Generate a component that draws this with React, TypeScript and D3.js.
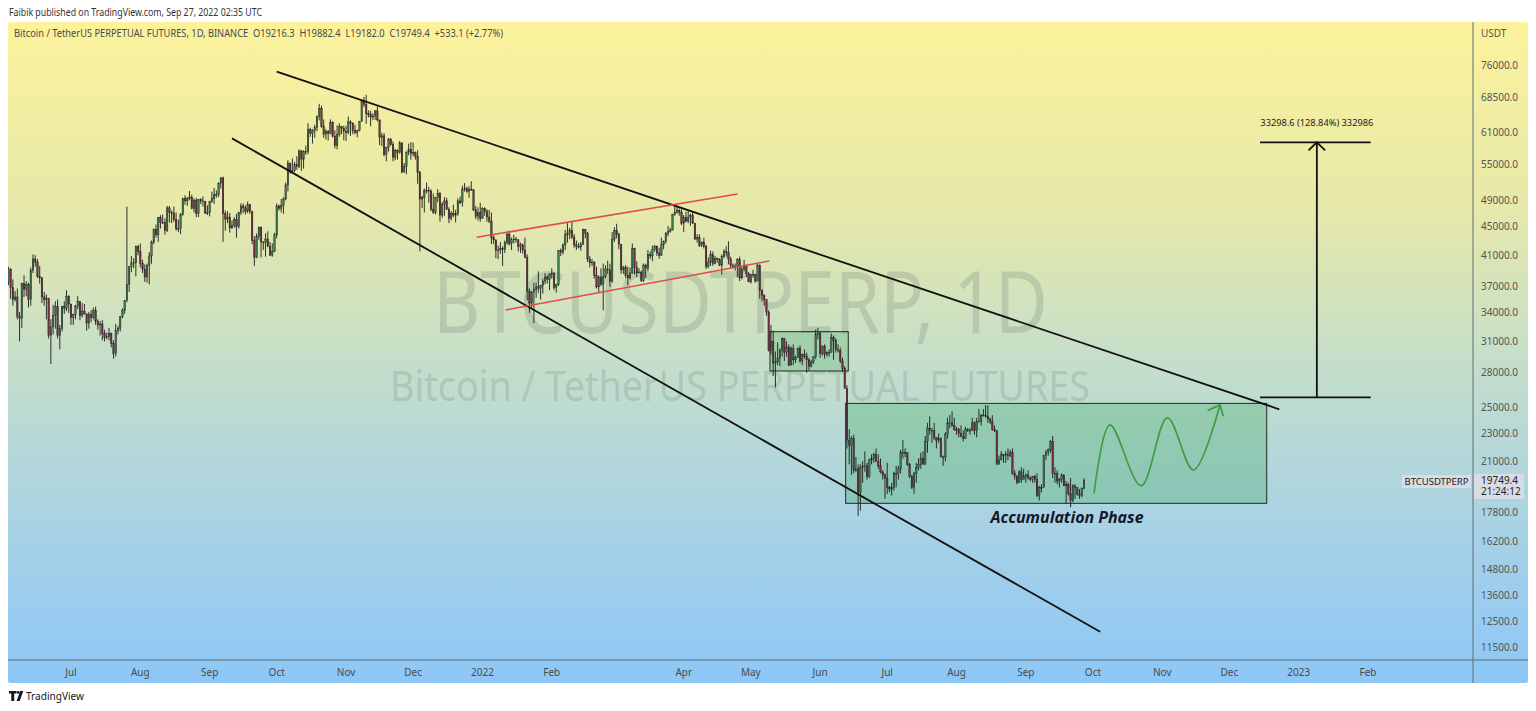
import React from "react";
import * as d3 from "d3";

// ---------- DATA (prices in thousands of USDT) ----------
// Daily candles, BTCUSDT perpetual, from 2021-06-03 to 2022-09-27. Open = previous close.
const firstDay = "2021-06-03";
const firstOpen = 37.6;
const closes: number[] = [
  // Jun 2021 (from 3rd)
  39.2,36.9,35.5,35.8,33.6,33.4,37.4,36.7,37.3,35.5,39.0,40.5,40.1,38.3,38.1,35.8,35.5,35.6,31.6,32.5,33.7,34.7,31.6,32.3,34.7,34.5,35.9,35.0,
  // Jul 2021
  33.5,33.8,34.7,35.3,33.7,34.2,33.9,32.9,33.8,33.5,34.3,33.1,32.7,32.8,31.8,31.4,31.5,31.8,30.8,29.8,32.1,32.3,33.6,34.3,35.4,37.3,39.5,40.0,40.0,42.2,41.5,
  // Aug 2021
  39.9,39.2,38.2,39.7,40.9,42.8,44.6,43.8,46.3,45.6,45.6,44.4,47.8,47.1,47.0,46.0,44.7,44.7,46.8,49.3,48.9,49.3,49.5,47.7,49.0,46.9,49.1,48.9,48.8,47.0,47.1,
  // Sep 2021
  48.8,49.3,49.9,49.9,51.8,52.7,46.9,46.1,46.4,44.8,45.2,46.0,45.0,47.1,48.1,47.8,47.3,48.3,47.3,43.0,40.7,43.6,44.9,42.8,42.7,43.2,42.2,41.0,41.5,43.8,
  // Oct 2021
  48.1,47.7,48.2,49.2,51.5,55.3,53.8,54.0,55.0,54.7,57.5,56.0,57.4,57.4,61.7,60.9,61.5,62.0,64.3,66.0,62.2,60.7,61.3,60.9,63.1,60.3,58.5,60.6,62.3,61.9,61.3,
  // Nov 2021
  61.0,63.2,62.9,61.4,61.0,61.5,63.3,67.5,66.9,64.9,64.8,64.2,64.4,65.5,63.6,60.1,60.4,56.9,58.1,59.7,58.7,56.3,57.6,57.2,59.0,53.7,54.7,57.3,57.8,57.0,
  // Dec 2021
  57.2,56.5,53.6,49.2,49.4,50.6,50.6,50.5,47.6,47.1,49.4,50.1,46.7,48.4,48.9,47.6,46.2,46.9,46.7,46.9,48.9,48.6,50.8,50.9,50.4,50.8,50.7,47.5,46.5,47.1,46.2,
  // Jan 2022
  47.7,47.3,46.4,45.8,43.4,43.1,41.6,41.7,41.9,41.8,42.7,43.9,42.6,43.1,43.2,43.1,42.2,42.4,41.7,40.7,36.5,35.1,36.3,36.7,37.0,36.8,37.2,37.7,38.2,37.9,38.5,
  // Feb 2022
  38.7,36.9,37.3,41.6,41.4,42.4,43.8,44.0,44.4,43.5,42.4,42.2,42.1,42.5,44.6,44.0,40.5,40.0,40.1,38.4,37.0,38.2,37.3,38.3,39.2,39.1,37.7,43.2,
  // Mar 2022
  44.4,43.9,42.5,39.1,39.4,38.4,38.1,38.7,41.9,39.4,38.7,38.8,37.8,39.7,39.3,41.1,40.9,41.8,42.2,41.3,41.0,42.4,42.9,44.0,44.3,44.5,46.8,47.1,47.4,47.1,45.5,
  // Apr 2022
  46.3,45.8,46.4,46.6,45.5,43.2,43.4,42.3,42.8,42.2,39.5,40.1,41.1,39.9,40.6,40.4,39.7,40.8,41.5,41.4,40.5,39.7,39.5,39.5,40.4,38.1,39.2,39.7,38.6,37.6,
  // May 2022
  38.5,38.5,37.7,39.7,36.6,36.0,35.5,34.1,30.1,31.0,28.9,29.0,29.3,30.1,31.3,29.9,30.4,28.7,30.3,29.2,29.4,30.3,29.1,29.7,29.5,29.2,28.6,29.0,29.5,31.7,31.8,
  // Jun 2022
  29.8,30.5,29.7,29.9,29.9,31.4,31.1,30.2,30.1,29.1,28.4,26.6,22.5,22.1,22.6,20.4,20.5,19.0,20.6,20.7,20.7,20.0,21.1,21.2,21.5,21.0,20.7,20.3,20.1,19.9,
  // Jul 2022
  19.3,19.2,19.3,20.2,20.2,20.5,21.6,21.6,21.6,20.8,20.0,19.3,20.2,20.6,20.8,21.2,20.8,22.4,23.4,23.2,23.2,22.7,22.5,22.6,21.3,21.3,22.9,23.8,23.8,23.6,23.3,
  // Aug 2022
  23.3,23.0,22.8,22.6,23.3,23.2,23.2,23.8,23.2,23.9,23.9,24.4,24.4,24.3,24.1,23.9,23.3,23.2,20.8,21.1,21.5,21.4,21.5,21.4,21.6,20.2,20.0,19.6,20.3,19.8,20.0,
  // Sep 2022
  20.1,19.9,19.8,20.0,19.8,18.8,19.3,19.3,21.4,21.6,21.8,22.4,20.2,20.2,19.7,19.8,20.1,19.4,19.5,18.9,18.5,19.4,19.3,18.9,18.8,19.2163,19.7494,
];
const highs: number[] = [
  39.5,39.3,37.9,36.5,36.8,34.1,37.5,38.4,37.7,37.5,39.4,41.1,41.0,40.5,39.6,38.2,36.4,36.1,35.7,33.3,34.9,35.3,35.5,32.7,34.8,35.3,36.6,36.0,
  35.0,33.9,34.9,35.9,35.3,35.1,35.0,33.9,34.1,34.3,34.6,34.7,33.3,33.1,33.2,32.2,31.9,32.4,31.9,31.1,32.8,32.6,33.6,34.5,35.4,48.0,39.5,40.9,40.6,42.3,42.4,
  42.6,40.4,39.8,39.9,41.4,43.0,44.7,45.3,46.4,46.7,46.8,46.2,48.1,48.1,47.4,48.0,47.1,46.0,47.0,49.4,49.8,49.5,50.5,49.9,49.3,49.4,49.2,49.3,49.6,48.9,48.2,
  48.9,50.4,51.0,50.6,51.9,52.8,52.9,47.4,47.3,47.0,45.9,46.4,46.9,47.2,48.5,48.5,48.2,48.8,48.4,47.3,43.6,44.0,45.0,45.0,42.9,44.0,44.3,42.8,42.6,44.1,
  48.5,48.3,49.2,49.5,51.9,55.8,55.3,56.1,55.5,56.5,57.8,57.7,57.6,58.5,62.9,62.0,61.7,62.6,64.5,67.0,66.6,63.7,61.7,61.5,63.7,63.3,61.5,62.5,62.9,62.3,62.4,
  62.4,64.3,63.5,63.1,62.6,61.6,63.3,67.8,68.5,69.0,65.6,65.5,65.0,65.6,66.4,63.6,61.0,60.9,58.3,60.0,60.0,59.3,57.9,57.8,59.4,59.2,55.3,57.4,58.9,59.2,
  59.1,57.4,57.6,53.9,49.7,50.9,51.9,51.2,50.8,50.1,49.5,50.8,50.3,48.7,49.5,49.4,47.9,47.3,48.3,47.5,49.3,49.6,51.4,51.8,51.2,51.3,52.1,50.7,48.1,47.9,48.6,
  47.9,47.9,47.6,47.5,47.1,43.7,43.1,42.3,42.8,42.2,43.0,44.3,44.4,43.4,43.8,43.5,43.2,42.7,42.6,43.4,41.1,36.8,36.5,37.5,37.5,38.9,37.2,38.0,38.7,38.4,38.7,
  39.3,38.8,37.4,41.7,41.9,42.6,44.5,45.5,44.8,45.8,43.9,43.0,42.7,42.8,44.7,44.6,44.2,40.9,40.5,40.2,39.5,38.4,39.3,39.9,39.7,40.3,39.9,44.2,
  44.9,45.4,44.1,42.5,39.6,39.7,39.5,39.4,42.6,42.0,40.2,39.3,39.0,39.9,39.9,41.7,41.5,42.3,42.4,42.3,42.0,43.4,43.0,44.2,45.1,44.8,46.9,48.2,48.1,47.7,47.6,
  46.7,47.2,47.4,46.9,47.2,45.5,43.9,43.9,42.8,43.4,42.4,40.7,41.6,41.5,40.9,40.7,40.6,41.1,41.8,42.2,42.9,40.8,39.9,39.9,40.6,40.8,39.5,40.4,39.4,38.8,
  38.6,39.1,38.6,40.0,39.8,36.7,36.1,35.5,34.3,32.7,32.1,30.0,30.9,30.3,31.4,31.3,31.0,30.7,30.5,30.7,29.6,30.4,30.6,29.8,30.2,29.9,29.4,29.2,29.5,32.2,32.4,
  32.0,30.6,30.7,30.0,30.2,31.8,31.6,31.3,30.7,30.4,29.4,28.6,26.9,23.3,22.8,22.9,21.3,20.8,20.8,21.0,21.7,20.9,21.2,21.5,21.6,21.9,21.5,21.2,20.4,20.2,
  20.9,19.4,19.6,20.3,20.7,20.7,21.8,22.5,21.9,21.6,20.9,20.1,20.3,20.9,21.2,21.6,21.7,22.8,23.8,24.3,23.4,23.8,22.7,23.0,22.7,21.4,23.1,24.2,24.4,24.7,24.2,
  23.5,23.4,23.6,23.2,23.5,23.4,23.4,24.2,23.9,24.2,24.9,24.5,24.9,25.2,25.2,24.2,24.4,23.6,23.2,21.4,21.7,21.5,21.7,21.9,21.8,21.9,20.4,20.1,20.4,20.6,20.5,
  20.2,20.4,20.0,20.0,20.1,20.2,19.4,19.5,21.4,21.8,21.9,22.5,22.8,20.6,20.4,19.9,20.2,20.1,19.7,19.6,19.9,19.5,19.5,19.3,19.2,19.3,19.8824,
];
const lows: number[] = [
  37.2,35.6,34.8,35.3,33.3,31.0,32.4,35.8,35.9,34.6,34.8,38.7,39.5,38.1,37.4,35.1,34.8,33.3,31.3,28.8,31.7,32.3,31.3,30.2,32.0,33.9,34.2,34.0,
  32.7,32.7,33.3,34.4,33.2,33.5,33.8,32.1,32.3,33.0,33.3,32.7,32.2,31.6,31.1,31.0,31.2,31.1,30.4,29.3,29.5,31.7,32.0,33.4,33.9,35.2,36.4,38.8,39.3,38.3,41.0,
  39.4,38.7,37.6,37.5,37.3,39.9,42.5,43.4,42.8,44.7,45.4,43.8,44.2,45.6,45.5,45.7,44.4,44.2,43.9,46.6,48.3,48.1,49.0,47.6,47.1,46.4,46.4,48.4,48.0,46.9,46.7,
  46.5,48.6,48.4,49.4,49.5,50.9,42.8,44.4,45.5,44.1,44.7,44.8,43.4,44.7,46.7,47.0,46.8,47.0,46.9,42.5,39.6,40.6,43.1,40.7,41.7,40.8,42.1,40.9,40.8,41.4,
  43.3,47.4,47.1,46.9,49.0,50.4,53.4,53.6,53.7,54.1,54.4,53.9,54.3,56.8,56.9,60.2,58.9,60.0,61.3,63.5,62.0,60.0,59.7,59.5,60.7,60.1,58.0,57.8,60.2,60.7,59.5,
  59.4,60.7,60.4,60.7,60.7,60.1,61.3,63.3,66.3,62.8,64.1,62.3,63.6,63.6,63.3,58.6,58.4,56.5,55.6,57.4,58.5,55.6,55.8,55.9,57.0,53.5,53.6,53.3,56.7,55.9,
  56.5,55.9,51.7,41.5,47.8,47.1,50.1,48.6,47.3,46.9,46.8,48.7,45.7,46.3,46.6,47.5,45.5,45.9,46.4,45.6,46.6,48.4,48.0,50.4,50.2,49.4,50.5,47.3,46.1,45.9,45.7,
  46.2,46.6,45.7,45.5,42.5,42.5,40.6,40.5,41.2,39.6,41.3,42.4,42.3,41.7,42.6,42.7,41.5,41.3,41.2,40.6,35.4,34.0,34.6,32.9,35.7,36.3,35.5,36.2,37.3,37.4,36.6,
  38.0,36.6,36.3,37.1,40.9,41.1,41.7,42.7,43.2,43.2,42.0,41.7,41.9,41.6,42.4,43.3,40.1,39.4,39.6,38.0,36.8,36.4,37.1,34.3,38.0,38.6,37.0,37.5,
  42.8,43.3,41.8,38.6,38.6,38.1,37.2,37.9,38.6,38.5,38.2,38.7,37.6,37.6,38.1,38.9,40.5,40.2,41.5,40.9,40.5,40.9,41.8,42.6,43.6,44.1,44.4,46.6,46.9,46.6,45.2,
  44.2,45.6,45.5,45.1,45.4,43.1,42.7,42.1,42.1,41.9,39.2,39.3,39.6,39.6,39.8,40.0,39.6,38.5,40.6,40.8,39.8,39.2,39.3,39.0,38.2,37.7,37.9,38.9,38.2,37.6,
  37.4,38.1,37.5,37.7,35.6,35.3,34.8,33.7,30.0,29.7,27.7,26.7,28.7,28.6,29.5,29.1,29.5,28.6,28.7,28.7,28.9,29.4,28.9,28.7,29.3,28.0,28.2,28.5,28.8,29.3,31.2,
  29.4,29.6,29.3,29.5,29.5,29.9,29.2,29.9,29.9,28.9,28.1,26.6,21.9,20.8,20.1,20.2,20.3,17.6,17.9,19.6,20.3,19.8,19.9,20.8,20.9,21.0,20.5,20.2,19.8,18.6,
  18.9,19.0,18.8,19.1,19.3,19.8,20.2,21.2,21.3,20.7,19.9,19.2,18.9,19.6,20.4,20.5,20.8,20.8,21.6,22.9,22.3,22.5,21.9,22.3,21.3,20.7,21.0,22.6,23.4,23.5,23.2,
  22.9,22.7,22.7,22.4,22.6,23.1,22.9,23.2,22.9,22.7,23.9,23.6,24.3,24.2,23.8,23.7,23.2,23.1,20.8,20.8,21.1,20.9,20.9,21.1,21.3,20.1,19.8,19.5,19.6,19.6,19.8,
  19.6,19.8,19.7,19.6,19.6,18.7,18.5,19.0,19.3,21.1,21.4,21.6,19.9,19.6,19.5,19.3,19.6,19.4,18.3,18.8,18.1,18.4,18.6,18.8,18.6,18.7,19.182,
];

const priceTicks = [76000, 68500, 61000, 55000, 49000, 45000, 41000, 37000, 34000, 31000, 28000, 25000, 23000, 21000, 17800, 16200, 14800, 13600, 12500, 11500];
const timeTicks: [string, string][] = [
  ["2021-07-01", "Jul"], ["2021-08-01", "Aug"], ["2021-09-01", "Sep"], ["2021-10-01", "Oct"],
  ["2021-11-01", "Nov"], ["2021-12-01", "Dec"], ["2022-01-01", "2022"], ["2022-02-01", "Feb"],
  ["2022-04-01", "Apr"], ["2022-05-01", "May"], ["2022-06-01", "Jun"], ["2022-07-01", "Jul"],
  ["2022-08-01", "Aug"], ["2022-09-01", "Sep"], ["2022-10-01", "Oct"], ["2022-11-01", "Nov"],
  ["2022-12-01", "Dec"], ["2023-01-01", "2023"], ["2023-02-01", "Feb"],
];

// Drawings (time, price)
const fanUpper: [string, number][] = [["2021-10-01T00:00Z", 74400], ["2022-12-23T08:00Z", 24870]];
const fanLower: [string, number][] = [["2021-09-11T00:00Z", 59900], ["2022-10-04T05:00Z", 12080]];
const redUpper: [string, number][] = [["2021-12-29T10:00Z", 43450], ["2022-04-25T02:00Z", 50010]];
const redLower: [string, number][] = [["2022-01-11T10:00Z", 34320], ["2022-05-09T07:00Z", 40240]];
const smallBox: [string, number][] = [["2022-05-09T14:00Z", 31990], ["2022-06-13T14:00Z", 28160]];
const accBox: [string, number][] = [["2022-06-12T10:00Z", 25350], ["2022-12-17T17:00Z", 18330]];
const wave: [string, number][] = [
  ["2022-10-01T12:00Z", 18930], ["2022-10-08T14:00Z", 23640], ["2022-10-22T12:00Z", 19410],
  ["2022-11-03T07:00Z", 24200], ["2022-11-14T22:00Z", 20420], ["2022-11-26T19:00Z", 25220],
];
const measureBase = 25844.9;
const measureTop = 59143.5;
const measureSpan: [string, string, string] = ["2022-12-14T17:00Z", "2023-02-02T05:00Z", "2023-01-09T03:00Z"];
const accLabel: [string, number] = ["2022-09-19T10:00Z", 17200];

// ---------- SCALES ----------
const x = d3.scaleUtc()
  .domain([new Date("2021-07-01T00:00Z"), new Date("2023-02-01T00:00Z")])
  .range([71, 1368]);
const y = d3.scaleLog().domain([11500, 76000]).range([647, 65]);

const PANE = { x0: 8, x1: 1473, y0: 22, y1: 660 };
const FONT = "'Noto Sans', 'DejaVu Sans', sans-serif";

const candles = closes.map((c, i) => {
  const open = (i === 0 ? firstOpen : closes[i - 1]) * 1000;
  const close = c * 1000;
  const high = Math.max(highs[i] * 1000, open, close);
  const low = Math.min(lows[i] * 1000, open, close);
  return { date: d3.utcDay.offset(new Date(firstDay + "T00:00Z"), i), open, close, high, low };
});

const pt = (p: [string, number]) => [x(new Date(p[0])), y(p[1])] as [number, number];

export default function App() {
  const bodyW = 1.5;
  const waveLine = d3.line<[number, number]>().curve(d3.curveCatmullRom.alpha(0.5));
  const wavePts = wave.map(pt);
  const tip = wavePts[wavePts.length - 1];
  const [bx0, by0] = pt(accBox[0]);
  const [bx1, by1] = pt(accBox[1]);
  const [sx0, sy0] = pt(smallBox[0]);
  const [sx1, sy1] = pt(smallBox[1]);
  const mx0 = x(new Date(measureSpan[0]));
  const mx1 = x(new Date(measureSpan[1]));
  const mxc = x(new Date(measureSpan[2]));
  const myB = y(measureBase);
  const myT = y(measureTop);
  const lastY = y(closes[closes.length - 1] * 1000);
  const [alx, aly] = pt(accLabel);

  const seg = (s: [string, number][], color: string, w: number) => {
    const [a, b] = s.map(pt);
    return <line x1={a[0]} y1={a[1]} x2={b[0]} y2={b[1]} stroke={color} strokeWidth={w} />;
  };

  return (
    <svg width={1536} height={711} style={{ position: "absolute", left: 0, top: 0, display: "block" }} fontFamily={FONT}>
      <defs>
        <linearGradient id="bg" gradientUnits="userSpaceOnUse" x1="0" y1="22" x2="0" y2="683">
          <stop offset="0" stopColor="#fcf29b" />
          <stop offset="0.28" stopColor="#e6e9aa" />
          <stop offset="0.52" stopColor="#c4decb" />
          <stop offset="0.78" stopColor="#a6d1e6" />
          <stop offset="1" stopColor="#8dc7f7" />
        </linearGradient>
        <clipPath id="pane">
          <rect x={PANE.x0} y={PANE.y0} width={PANE.x1 - PANE.x0} height={PANE.y1 - PANE.y0} />
        </clipPath>
      </defs>
      <rect x={0} y={0} width={1536} height={711} fill="#ffffff" />
      <text x={9} y={16} fontSize={10.5} fill="#333" textLength={253} lengthAdjust="spacingAndGlyphs">
        Faibik published on TradingView.com, Sep 27, 2022 02:35 UTC
      </text>
      <rect x={8} y={22} width={1520} height={661} fill="url(#bg)" rx={2} />

      {/* watermark */}
      <text x={740.5} y={333} fontSize={86} textAnchor="middle" fill="#7f8f84" fillOpacity={0.3}
        textLength={615} lengthAdjust="spacingAndGlyphs">BTCUSDTPERP, 1D</text>
      <text x={740} y={401} fontSize={42} textAnchor="middle" fill="#7f8f84" fillOpacity={0.3}
        textLength={700} lengthAdjust="spacingAndGlyphs">Bitcoin / TetherUS PERPETUAL FUTURES</text>

      <g clipPath="url(#pane)">
        {/* boxes */}
        <rect x={bx0} y={by0} width={bx1 - bx0} height={by1 - by0} fill="#4caf6e" fillOpacity={0.35} stroke="#1f2a22" strokeWidth={1} />
        <rect x={sx0} y={sy0} width={sx1 - sx0} height={sy1 - sy0} fill="#4caf6e" fillOpacity={0.3} stroke="#1f2a22" strokeWidth={1} />

        {/* candles */}
        {candles.map((d, i) => {
          const cx = x(d.date);
          const up = d.close >= d.open;
          const top = y(Math.max(d.open, d.close));
          const bot = y(Math.min(d.open, d.close));
          return (
            <g key={i}>
              <line x1={cx} x2={cx} y1={y(d.high)} y2={y(d.low)} stroke="#1b1b1b" strokeWidth={0.9} />
              <rect x={cx - bodyW / 2} y={top} width={bodyW} height={Math.max(bot - top, 0.8)}
                fill={up ? "#3f7a4f" : "#7b2d46"} stroke="#1b1b1b" strokeWidth={0.4} />
            </g>
          );
        })}

        {/* trend lines */}
        {seg(fanUpper, "#111", 1.8)}
        {seg(fanLower, "#111", 1.8)}
        {seg(redUpper, "#e5484d", 1.5)}
        {seg(redLower, "#e5484d", 1.5)}

        {/* projected wave */}
        <path d={waveLine(wavePts) || ""} fill="none" stroke="#3d9a3f" strokeWidth={1.6} />
        <polyline points={`${tip[0] - 12.3},${tip[1] + 5.5} ${tip[0]},${tip[1]} ${tip[0] + 3.3},${tip[1] + 11}`}
          fill="none" stroke="#3d9a3f" strokeWidth={1.6} />

        {/* measurement */}
        <line x1={mx0} x2={mx1} y1={myT} y2={myT} stroke="#111" strokeWidth={1.8} />
        <line x1={mx0} x2={mx1} y1={myB} y2={myB} stroke="#111" strokeWidth={1.8} />
        <line x1={mxc} x2={mxc} y1={myB} y2={myT} stroke="#111" strokeWidth={1.8} />
        <polyline points={`${mxc - 8.3},${myT + 8} ${mxc},${myT} ${mxc + 8.3},${myT + 8}`} fill="none" stroke="#111" strokeWidth={1.8} />
        <text x={mxc} y={myT - 16} fontSize={9.5} textAnchor="middle" fill="#222" textLength={113} lengthAdjust="spacingAndGlyphs">
          33298.6 (128.84%) 332986
        </text>

        <text x={alx} y={aly} fontSize={16} fontWeight={700} fontStyle="italic" textAnchor="middle" fill="#15172a"
          fontFamily="'Open Sans', 'DejaVu Sans', sans-serif" textLength={153} lengthAdjust="spacingAndGlyphs">
          Accumulation Phase
        </text>
      </g>

      {/* legend */}
      <text x={14} y={37} fontSize={10} fill="#4a4a4a" textLength={489} lengthAdjust="spacingAndGlyphs"
        style={{ whiteSpace: "pre" }}>
        {"Bitcoin / TetherUS PERPETUAL FUTURES, 1D, BINANCE  O19216.3  H19882.4  L19182.0  C19749.4  +533.1 (+2.77%)"}
      </text>

      {/* axes frame */}
      <line x1={1473} x2={1473} y1={22} y2={683} stroke="#5f6e78" strokeWidth={1} />
      <line x1={8} x2={1528} y1={660} y2={660} stroke="#5f6e78" strokeWidth={1} />

      {/* price axis */}
      <text x={1481} y={37} fontSize={10} fill="#555">USDT</text>
      {priceTicks.map((p) => (
        <text key={p} x={1481} y={y(p) + 3.5} fontSize={10} fill="#555">{p.toFixed(1)}</text>
      ))}
      <rect x={1402} y={475} width={69} height={13} fill="#d9dce3" />
      <text x={1436.5} y={485} fontSize={9.5} textAnchor="middle" fill="#222">BTCUSDTPERP</text>
      <rect x={1474} y={474} width={50} height={25} fill="#d9dce3" />
      <text x={1481} y={lastY + 3.5} fontSize={10} fill="#222">{(closes[closes.length - 1] * 1000).toFixed(1)}</text>
      <text x={1481} y={lastY + 15} fontSize={10} fill="#222">21:24:12</text>

      {/* time axis */}
      {timeTicks.map(([d, l]) => (
        <text key={d} x={x(new Date(d + "T00:00Z"))} y={676} fontSize={10} textAnchor="middle" fill="#4a4a4a">{l}</text>
      ))}

      {/* footer logo */}
      <g fill="#131722">
        <path d="M9 691 h7.5 v2.6 h-2.3 v7.4 h-2.9 v-7.4 h-2.3 z" />
        <circle cx={18.2} cy={692.4} r={1.4} />
        <path d="M20.2 691 h3.1 l-3.6 10 h-3.1 z" />
      </g>
      <text x={26} y={700} fontSize={11} fill="#131722" textLength={58} lengthAdjust="spacingAndGlyphs">TradingView</text>
    </svg>
  );
}
